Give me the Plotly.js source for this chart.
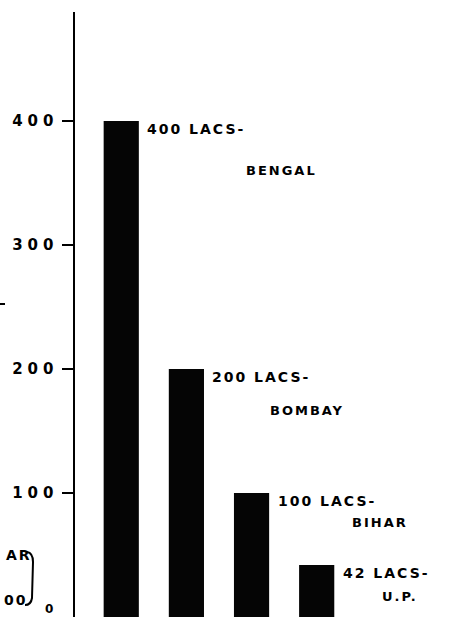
<!DOCTYPE html>
<html>
<head>
<meta charset="utf-8">
<script src="https://cdn.plot.ly/plotly-3.0.1.min.js"></script>
<style>
html,body{margin:0;padding:0;background:#fff;}
#chart{width:475px;height:618px;}
#chart .ytick text{letter-spacing:5px;}
#chart .annotation-text{letter-spacing:2px;}
</style>
</head>
<body>
<div id="chart"></div>
<script>
// ---- data ----
const provinces = ["BENGAL", "BOMBAY", "BIHAR", "U.P."];
const lacs = [400, 200, 100, 42];
const tickValues = [100, 200, 300, 400];
const tickLabels = ["100", "200", "300", "400"];
const unitWord = "LACS-";

// ---- styling / placement ----
const FONT = "DejaVu Sans, Liberation Sans, sans-serif";
const LS = 2; // annotation letter spacing (px), applied by CSS
const W = 475, H = 618, M = {l: 75, r: 0, t: 12, b: 1};
const PW = W - M.l - M.r, PH = H - M.t - M.b;
const px = x => (x - M.l) / PW;
const py = y => (H - M.b - y) / PH;
// CSS letter-spacing widens centred text on both sides; compensate
const comp = s => LS * s.length / 2;
// second-line (province name) offsets relative to bar centre / bar top, in px
const nameShift = [[123, -49], [82, -41], [98, -29], [63, -32]];

const trace = {
  type: "bar",
  x: provinces,
  y: lacs,
  marker: {color: "#050505", line: {width: 0}},
  hoverinfo: "skip"
};

const annotations = [];
provinces.forEach((p, i) => {
  const t1 = lacs[i] + " " + unitWord;
  annotations.push({
    x: i, y: lacs[i], xref: "x", yref: "y",
    text: "<b>" + t1 + "</b>",
    showarrow: false, xanchor: "left", yanchor: "middle",
    xshift: 24 + comp(t1), yshift: -8,
    font: {family: FONT, size: 14, color: "#000"}
  });
  annotations.push({
    x: i, y: lacs[i], xref: "x", yref: "y",
    text: "<b>" + p + "</b>",
    showarrow: false, xanchor: "left", yanchor: "middle",
    xshift: nameShift[i][0] + comp(p), yshift: nameShift[i][1],
    font: {family: FONT, size: 13, color: "#000"}
  });
});
// zero label and cropped fragments at left edge
annotations.push({x: px(50), y: py(609), xref: "paper", yref: "paper", text: "<b>0</b>",
  showarrow: false, xanchor: "center", yanchor: "middle", font: {family: FONT, size: 12, color: "#000"}});
annotations.push({x: px(30), y: py(555), xref: "paper", yref: "paper", text: "<b>AR</b>",
  showarrow: false, xanchor: "right", yanchor: "middle", xshift: comp("AR"),
  font: {family: FONT, size: 14, color: "#000"}});
annotations.push({x: px(26), y: py(600), xref: "paper", yref: "paper", text: "<b>00</b>",
  showarrow: false, xanchor: "right", yanchor: "middle", xshift: comp("00"),
  font: {family: FONT, size: 14, color: "#000"}});

const P = (x, y) => px(x).toFixed(4) + "," + py(y).toFixed(4);
const shapes = [
  {type: "path", xref: "paper", yref: "paper",
   path: "M" + P(27, 552) + " Q" + P(33, 553) + " " + P(33, 562) + " L" + P(32, 598) + " Q" + P(31, 605) + " " + P(25, 605),
   line: {color: "#000", width: 2}},
  {type: "line", xref: "paper", yref: "paper", x0: px(0), x1: px(5), y0: py(304), y1: py(304),
   line: {color: "#000", width: 2}}
];

const layout = {
  width: W, height: H,
  margin: M,
  paper_bgcolor: "#fff", plot_bgcolor: "#fff",
  showlegend: false,
  bargap: 0.46,
  xaxis: {type: "category", range: [-0.71, 5.43], showline: false, showticklabels: false,
          showgrid: false, zeroline: false, ticks: "", fixedrange: true},
  yaxis: {range: [0, 488], tickvals: tickValues, ticktext: tickLabels.map(t => "<b>" + t + "</b>"),
          ticks: "outside", ticklen: 11, tickwidth: 2, tickcolor: "#000",
          showline: true, linewidth: 2.5, linecolor: "#000",
          showgrid: false, zeroline: false,
          tickfont: {family: FONT, size: 15, color: "#000"}, fixedrange: true},
  annotations: annotations,
  shapes: shapes
};

Plotly.newPlot("chart", [trace], layout, {displayModeBar: false, staticPlot: true});
</script>
</body>
</html>
